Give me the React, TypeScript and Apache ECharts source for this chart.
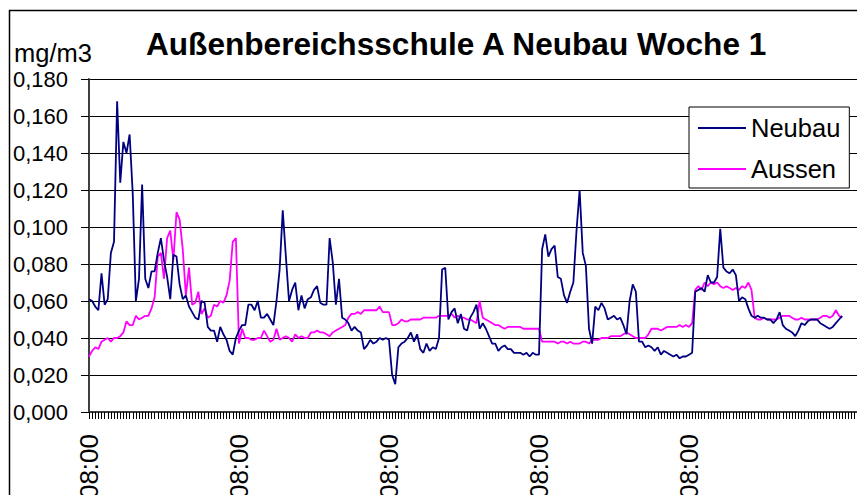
import React, { useEffect, useRef } from "react";
import * as echarts from "echarts";

const TITLE = "Außenbereichsschule A Neubau Woche 1";
const UNIT = "mg/m3";
const SERIES_NAMES = ["Neubau", "Aussen"];
const STEPS_PER_DAY = 48;
const CATEGORY_COUNT = 252;
const LABELED_DAYS = 5;

// half-hour time stamps, starting Monday 08:00
const categories: string[] = [];
for (let i = 0; i < CATEGORY_COUNT; i++) {
  const minutes = 8 * 60 + i * 30;
  const h = Math.floor(minutes / 60) % 24;
  const m = minutes % 60;
  categories.push(String(h).padStart(2, "0") + ":" + String(m).padStart(2, "0"));
}

const neubau = [
  0.061, 0.060, 0.057, 0.055, 0.075, 0.058, 0.061, 0.086, 0.092, 0.168,
  0.124, 0.146, 0.140, 0.150, 0.118, 0.060, 0.072, 0.123, 0.072, 0.067,
  0.076, 0.076, 0.086, 0.094, 0.082, 0.073, 0.061, 0.085, 0.084, 0.069,
  0.061, 0.063, 0.057, 0.054, 0.051, 0.050, 0.060, 0.059, 0.046, 0.044,
  0.044, 0.038, 0.046, 0.042, 0.039, 0.033, 0.031, 0.040, 0.044, 0.047,
  0.047, 0.058, 0.058, 0.055, 0.060, 0.051, 0.051, 0.053, 0.050, 0.047,
  0.060, 0.077, 0.109, 0.084, 0.060, 0.066, 0.070, 0.055, 0.063, 0.056,
  0.061, 0.062, 0.066, 0.068, 0.059, 0.058, 0.058, 0.094, 0.081, 0.058,
  0.072, 0.051, 0.050, 0.048, 0.044, 0.046, 0.044, 0.043, 0.034, 0.036,
  0.039, 0.037, 0.038, 0.040, 0.039, 0.040, 0.039, 0.020, 0.015, 0.035,
  0.037, 0.038, 0.040, 0.043, 0.038, 0.042, 0.034, 0.032, 0.037, 0.033,
  0.035, 0.034, 0.040, 0.077, 0.078, 0.050, 0.054, 0.056, 0.048, 0.053,
  0.045, 0.044, 0.051, 0.054, 0.058, 0.045, 0.048, 0.045, 0.041, 0.037,
  0.037, 0.033, 0.035, 0.036, 0.034, 0.034, 0.032, 0.032, 0.032, 0.031,
  0.032, 0.030, 0.032, 0.031, 0.031, 0.088, 0.096, 0.084, 0.088, 0.090,
  0.073, 0.072, 0.063, 0.059, 0.065, 0.070, 0.098, 0.120, 0.086, 0.079,
  0.045, 0.037, 0.057, 0.055, 0.059, 0.056, 0.050, 0.051, 0.052, 0.050,
  0.051, 0.047, 0.042, 0.060, 0.069, 0.065, 0.038, 0.038, 0.035, 0.036,
  0.035, 0.033, 0.035, 0.031, 0.033, 0.032, 0.031, 0.030, 0.031, 0.029,
  0.030, 0.030, 0.031, 0.032, 0.065, 0.066, 0.067, 0.065, 0.074, 0.070,
  0.070, 0.073, 0.099, 0.078, 0.076, 0.075, 0.077, 0.074, 0.060, 0.062,
  0.061, 0.056, 0.052, 0.051, 0.052, 0.051, 0.051, 0.050, 0.050, 0.048,
  0.050, 0.054, 0.047, 0.045, 0.044, 0.043, 0.041, 0.044, 0.048, 0.047,
  0.049, 0.050, 0.050, 0.050, 0.048, 0.047, 0.046, 0.045, 0.046, 0.048,
  0.050, 0.052,
];

const aussen = [
  0.030, 0.033, 0.035, 0.034, 0.038, 0.039, 0.040, 0.038, 0.040, 0.040,
  0.041, 0.043, 0.049, 0.047, 0.047, 0.052, 0.050, 0.051, 0.052, 0.052,
  0.056, 0.062, 0.084, 0.086, 0.072, 0.094, 0.098, 0.082, 0.108, 0.104,
  0.088, 0.063, 0.078, 0.058, 0.059, 0.065, 0.053, 0.056, 0.051, 0.052,
  0.058, 0.057, 0.060, 0.059, 0.063, 0.071, 0.092, 0.094, 0.037, 0.045,
  0.040, 0.040, 0.039, 0.039, 0.040, 0.040, 0.044, 0.041, 0.038, 0.039,
  0.045, 0.039, 0.040, 0.041, 0.040, 0.038, 0.042, 0.040, 0.041, 0.040,
  0.040, 0.043, 0.043, 0.044, 0.043, 0.043, 0.042, 0.041, 0.043, 0.044,
  0.045, 0.046, 0.047, 0.051, 0.053, 0.053, 0.054, 0.053, 0.055, 0.055,
  0.055, 0.055, 0.055, 0.057, 0.054, 0.054, 0.054, 0.047, 0.047, 0.048,
  0.050, 0.049, 0.049, 0.050, 0.050, 0.050, 0.050, 0.051, 0.051, 0.051,
  0.051, 0.051, 0.052, 0.052, 0.052, 0.052, 0.053, 0.051, 0.052, 0.051,
  0.051, 0.050, 0.050, 0.049, 0.048, 0.060, 0.051, 0.050, 0.049, 0.048,
  0.047, 0.047, 0.046, 0.045, 0.046, 0.046, 0.046, 0.046, 0.046, 0.045,
  0.045, 0.045, 0.045, 0.045, 0.045, 0.038, 0.038, 0.038, 0.038, 0.038,
  0.037, 0.038, 0.038, 0.037, 0.038, 0.037, 0.037, 0.037, 0.038, 0.038,
  0.037, 0.039, 0.039, 0.039, 0.040, 0.040, 0.040, 0.041, 0.041, 0.041,
  0.041, 0.042, 0.043, 0.042, 0.041, 0.040, 0.040, 0.040, 0.040, 0.042,
  0.045, 0.045, 0.045, 0.044, 0.045, 0.046, 0.046, 0.046, 0.046, 0.047,
  0.046, 0.047, 0.046, 0.048, 0.066, 0.068, 0.066, 0.070, 0.068, 0.070,
  0.069, 0.070, 0.068, 0.067, 0.068, 0.067, 0.066, 0.067, 0.066, 0.068,
  0.067, 0.070, 0.066, 0.051, 0.050, 0.050, 0.051, 0.050, 0.050, 0.050,
  0.050, 0.051, 0.052, 0.052, 0.052, 0.051, 0.050, 0.050, 0.051, 0.050,
  0.050, 0.050, 0.050, 0.050, 0.051, 0.052, 0.052, 0.051, 0.052, 0.055,
  0.052, 0.051,
];

const FONT = "'Liberation Sans', Arial, sans-serif";

export default function App() {
  const ref = useRef<HTMLDivElement>(null);

  useEffect(() => {
    if (!ref.current) return;
    const chart = echarts.init(ref.current, undefined, { renderer: "svg" });
    chart.setOption({
      animation: false,
      backgroundColor: "#ffffff",
      textStyle: { fontFamily: FONT },
      title: {
        text: TITLE,
        left: 146,
        top: 28,
        padding: 0,
        textStyle: { fontFamily: FONT, fontSize: 31.6, fontWeight: "bold", color: "#000" },
      },
      graphic: [
        {
          type: "rect",
          shape: { x: 9.5, y: 10.5, width: 1200, height: 1200 },
          style: { fill: "none", stroke: "#000", lineWidth: 1.5 },
          silent: true,
          z: 100,
        },
        {
          type: "text",
          x: 14,
          y: 53,
          style: {
            text: UNIT,
            font: "25.5px " + FONT,
            fill: "#000",
            textVerticalAlign: "middle",
          },
        },
      ],
      legend: {
        data: SERIES_NAMES,
        orient: "vertical",
        left: 689,
        top: 107,
        padding: [8, 9, 6, 9],
        itemGap: 15,
        itemWidth: 48,
        itemHeight: 2,
        icon: "rect",
        borderColor: "#000",
        borderWidth: 1,
        backgroundColor: "#fff",
        textStyle: { fontFamily: FONT, fontSize: 25.5, color: "#000", lineHeight: 25 },
      },
      grid: {
        left: 89,
        top: 79,
        right: 900 - 89 - (CATEGORY_COUNT - 1) * 3.125,
        bottom: 148,
        containLabel: false,
      },
      xAxis: {
        type: "category",
        data: categories,
        boundaryGap: false,
        axisLine: { lineStyle: { color: "#404040", width: 2 } },
        axisTick: {
          show: true,
          interval: 0,
          length: 7,
          lineStyle: { color: "#000", width: 1 },
        },
        axisLabel: {
          rotate: 90,
          margin: 22,
          fontSize: 26,
          fontFamily: FONT,
          color: "#000",
          interval: (index: number) =>
            index % STEPS_PER_DAY === 0 && index < STEPS_PER_DAY * LABELED_DAYS,
        },
        splitLine: { show: false },
      },
      yAxis: {
        type: "value",
        min: 0,
        max: 0.18,
        interval: 0.02,
        axisLine: { show: true, lineStyle: { color: "#404040", width: 2 } },
        axisTick: { show: true, length: 8, lineStyle: { color: "#000", width: 1 } },
        axisLabel: {
          margin: 21,
          fontSize: 22,
          fontFamily: FONT,
          color: "#000",
          formatter: (v: number) => v.toFixed(3).replace(".", ","),
        },
        splitLine: { show: true, lineStyle: { color: "#000", width: 1 } },
      },
      series: [
        {
          name: SERIES_NAMES[0],
          type: "line",
          data: neubau,
          showSymbol: false,
          symbol: "none",
          lineStyle: { color: "#000080", width: 1.8 },
          itemStyle: { color: "#000080" },
          z: 3,
        },
        {
          name: SERIES_NAMES[1],
          type: "line",
          data: aussen,
          showSymbol: false,
          symbol: "none",
          lineStyle: { color: "#ff00ff", width: 1.8 },
          itemStyle: { color: "#ff00ff" },
          z: 2,
        },
      ],
    });
    return () => chart.dispose();
  }, []);

  return (
    <div
      style={{
        position: "fixed",
        left: 0,
        top: 0,
        width: 857,
        height: 495,
        overflow: "hidden",
        background: "#fff",
      }}
    >
      <div ref={ref} style={{ width: 900, height: 560 }} />
    </div>
  );
}
